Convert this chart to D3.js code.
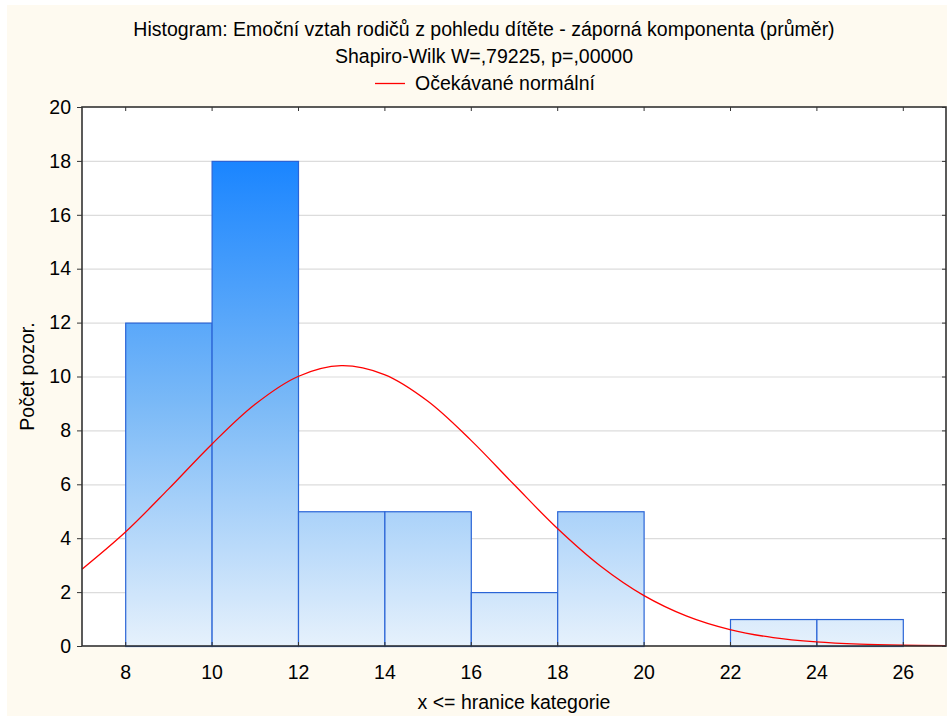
<!DOCTYPE html>
<html><head><meta charset="utf-8">
<script src="https://cdn.jsdelivr.net/npm/d3@7/dist/d3.min.js"></script>
<style>body{margin:0;background:#fff}svg{display:block}text{font-family:"Liberation Sans",Arial,sans-serif;fill:#000}</style>
</head><body><svg id="c" width="947" height="716"></svg>
<script>
// Histogram bins (lower edge, upper edge) and counts
const binStarts = [8, 10, 12, 14, 16, 18, 20, 22, 24];
const binEnds   = [10, 12, 14, 16, 18, 20, 22, 24, 26];
const counts    = [12, 18, 5, 5, 2, 5, 0, 1, 1];
// Expected normal curve at integer x
const curveX = [7,8,9,10,11,12,13,14,15,16,17,18,19,20,21,22,23,24,25,26,27];
const curveY = [2.85,4.22,5.82,7.48,8.96,10.0,10.4,10.07,9.09,7.64,5.99,4.37,2.97,1.88,1.11,0.61,0.31,0.15,0.067,0.028,0.011];
const xTicks = [8,10,12,14,16,18,20,22,24,26];
const yTicks = [0,2,4,6,8,10,12,14,16,18,20];
const title1 = "Histogram: Emoční vztah rodičů z pohledu dítěte - záporná komponenta (průměr)";
const title2 = "Shapiro-Wilk W=,79225, p=,00000";
const legendLabel = "Očekávané normální";
const xLabel = "x <= hranice kategorie";
const yLabel = "Počet pozor.";

const FS = 19.5;
const svg = d3.select("#c");
const L = 82, R = 946, T = 107, B = 646;
svg.append("rect").attr("x",7).attr("y",5).attr("width",940).attr("height",711).attr("fill","#fefaf0");
svg.append("rect").attr("x",L).attr("y",T).attr("width",R-L).attr("height",B-T).attr("fill","#fff");

const x = d3.scaleLinear().domain([7,27]).range([L,R]);
const y = d3.scaleLinear().domain([0,20]).range([B,T]);

const defs = svg.append("defs");
const g = defs.append("linearGradient").attr("id","bg").attr("gradientUnits","userSpaceOnUse")
  .attr("x1",0).attr("x2",0).attr("y1",y(18)).attr("y2",y(0));
g.append("stop").attr("offset",0).attr("stop-color","#1a85ff");
g.append("stop").attr("offset",0.5).attr("stop-color","#7ab9f7");
g.append("stop").attr("offset",1).attr("stop-color","#e6f1fc");

// grid
svg.append("g").selectAll("line").data(yTicks.filter(d=>d>0&&d<20)).join("line")
  .attr("x1",L).attr("x2",R).attr("y1",d=>y(d)+0.5).attr("y2",d=>y(d)+0.5)
  .attr("stroke","#dcdcdc").attr("stroke-width",1.2);

// bars
const bins = binStarts.map((s,i)=>({s, e:binEnds[i], c:counts[i]})).filter(d=>d.c>0);
svg.append("g").selectAll("rect").data(bins).join("rect")
  .attr("x",d=>x(d.s)+0.5).attr("y",d=>y(d.c)+0.5)
  .attr("width",d=>x(d.e)-x(d.s)).attr("height",d=>y(0)-y(d.c))
  .attr("fill","url(#bg)").attr("stroke","#2a64d6").attr("stroke-width",1.2);

// curve
const line = d3.line().x((d,i)=>x(curveX[i])).y(d=>y(d)).curve(d3.curveCatmullRom);
svg.append("path").attr("d",line(curveY)).attr("fill","none").attr("stroke","#ff0000").attr("stroke-width",1.3);

// frame
svg.append("rect").attr("x",L).attr("y",T).attr("width",R-L).attr("height",B-T)
  .attr("fill","none").attr("stroke","#333").attr("stroke-width",1.6);

// axes
const yAx = svg.append("g").attr("transform",`translate(${L},0)`)
  .call(d3.axisLeft(y).tickValues(yTicks).tickSize(5).tickPadding(6));
yAx.select(".domain").remove();
yAx.selectAll("line").attr("stroke","#333");
yAx.selectAll("text").attr("font-size",FS);
const yAxR = svg.append("g").attr("transform",`translate(${R},0)`)
  .call(d3.axisLeft(y).tickValues(yTicks).tickSize(4).tickFormat(""));
yAxR.select(".domain").remove(); yAxR.selectAll("line").attr("stroke","#333");

const xAx = svg.append("g").attr("transform",`translate(0,${B})`)
  .call(d3.axisTop(x).tickValues(xTicks).tickSize(4).tickFormat(""));
xAx.select(".domain").remove(); xAx.selectAll("line").attr("stroke","#333");
const xAxL = svg.append("g").attr("transform",`translate(0,${B})`)
  .call(d3.axisBottom(x).tickValues(xTicks).tickSize(0).tickPadding(19));
xAxL.select(".domain").remove();
xAxL.selectAll("text").attr("font-size",FS);
const xAxT = svg.append("g").attr("transform",`translate(0,${T})`)
  .call(d3.axisBottom(x).tickValues(xTicks).tickSize(4).tickFormat(""));
xAxT.select(".domain").remove(); xAxT.selectAll("line").attr("stroke","#333");

// titles
svg.append("text").attr("x",484).attr("y",36).attr("text-anchor","middle").attr("font-size",FS).text(title1);
svg.append("text").attr("x",484).attr("y",63).attr("text-anchor","middle").attr("font-size",FS).text(title2);
svg.append("line").attr("x1",375).attr("x2",405).attr("y1",83.5).attr("y2",83.5).attr("stroke","#ff0000").attr("stroke-width",1.3);
svg.append("text").attr("x",415).attr("y",90).attr("font-size",FS).text(legendLabel);
svg.append("text").attr("x",(L+R)/2).attr("y",709).attr("text-anchor","middle").attr("font-size",FS).text(xLabel);
svg.append("text").attr("transform",`translate(34,${(T+B)/2}) rotate(-90)`).attr("text-anchor","middle").attr("font-size",FS).text(yLabel);
</script></body></html>
